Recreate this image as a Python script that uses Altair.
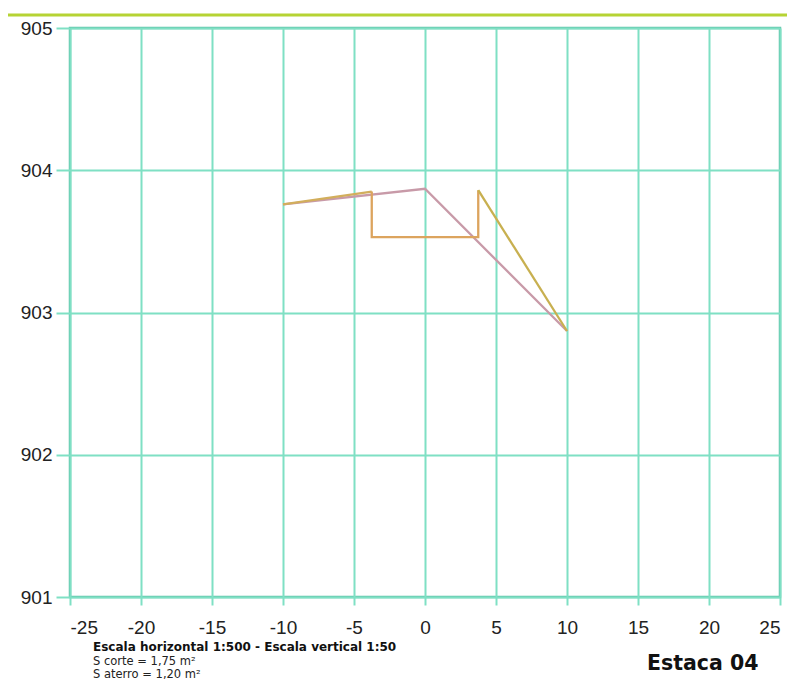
import altair as alt
import pandas as pd

# Terrain profile (terreno natural)
terrain_x = [-10.0, 0.0, 10.0]
terrain_y = [903.76, 903.87, 902.87]

# Cut box (plataforma)
box_x = [-3.75, -3.75, 3.75, 3.75]
box_y = [903.85, 903.53, 903.53, 903.86]

# Slopes (taludes)
slope_left_x = [-10.0, -3.75]
slope_left_y = [903.76, 903.85]
slope_right_x = [3.75, 10.0]
slope_right_y = [903.86, 902.87]

x_ticks = [-25, -20, -15, -10, -5, 0, 5, 10, 15, 20, 25]
y_ticks = [901, 902, 903, 904, 905]

title_line = "Escala horizontal 1:500 - Escala vertical 1:50"
info_lines = ["S corte = 1,75 m²", "S aterro = 1,20 m²"]
stake_label = "Estaca 04"

rows = []
for i, (x, y) in enumerate(zip(terrain_x, terrain_y)):
    rows.append({"s": "terreno", "o": i, "x": x, "y": y})
for i, (x, y) in enumerate(zip(slope_left_x, slope_left_y)):
    rows.append({"s": "talude_e", "o": i, "x": x, "y": y})
for i, (x, y) in enumerate(zip(box_x, box_y)):
    rows.append({"s": "corte", "o": i, "x": x, "y": y})
for i, (x, y) in enumerate(zip(slope_right_x, slope_right_y)):
    rows.append({"s": "talude_d", "o": i, "x": x, "y": y})
df = pd.DataFrame(rows)

W, H = 710, 569

xs = alt.Scale(domain=[-25, 25], nice=False)
ys = alt.Scale(domain=[901, 905], nice=False, zero=False)

lines = alt.Chart(df).mark_line(strokeWidth=2.3, clip=True).encode(
    x=alt.X("x:Q", scale=xs, axis=alt.Axis(
        values=x_ticks, title=None, grid=True, gridColor="#7fe0c4", gridWidth=2,
        domain=False, tickColor="#7fe0c4", tickWidth=2, tickSize=8,
        labelFont="Liberation Sans", labelFontSize=19, labelColor="#222222",
        labelPadding=13, labelExpr="'' + datum.value")),
    y=alt.Y("y:Q", scale=ys, axis=alt.Axis(
        values=y_ticks, title=None, grid=True, gridColor="#7fe0c4", gridWidth=2,
        domain=False, tickColor="#7fe0c4", tickWidth=2, tickSize=14,
        labelFont="Liberation Sans", labelFontSize=19, labelColor="#222222",
        labelPadding=4, labelExpr="'' + datum.value")),
    detail="s:N",
    order="o:Q",
    color=alt.Color("s:N", legend=None, scale=alt.Scale(
        domain=["terreno", "talude_e", "corte", "talude_d"],
        range=["#c89aa8", "#d2ae5c", "#dca45e", "#c8b050"])),
)

top_rule = alt.Chart(pd.DataFrame({"a": [0]})).mark_rule(
    color="#b6d334", strokeWidth=3).encode(
    x=alt.value(-62), x2=alt.value(W + 10), y=alt.value(-13))

txt_df = pd.DataFrame({"t": [title_line]})
t1 = alt.Chart(txt_df).mark_text(
    font="DejaVu Sans", fontSize=12, fontWeight="bold", align="left",
    baseline="alphabetic", color="#111111").encode(
    text="t:N", x=alt.value(23), y=alt.value(623))

info_df = pd.DataFrame({"t": info_lines, "yy": [636.5, 650]})
t2 = alt.Chart(info_df).mark_text(
    font="DejaVu Sans", fontSize=11.5, align="left", baseline="alphabetic",
    color="#222222").encode(
    text="t:N", x=alt.value(23), y=alt.Y("yy:Q", scale=None))

st_df = pd.DataFrame({"t": [stake_label]})
t3 = alt.Chart(st_df).mark_text(
    font="DejaVu Sans", fontSize=20.5, fontWeight="bold", align="left",
    baseline="alphabetic", color="#111111").encode(
    text="t:N", x=alt.value(577), y=alt.value(642))

chart = alt.layer(lines, top_rule, t1, t2, t3).properties(
    width=W, height=H,
    autosize=alt.AutoSizeParams(type="none"),
    padding={"left": 62, "top": 20, "right": 7, "bottom": 83},
).configure_view(stroke="#62c4aa", strokeWidth=2.5)

chart.save("out.html", embed_options={"renderer": "svg", "actions": False})
